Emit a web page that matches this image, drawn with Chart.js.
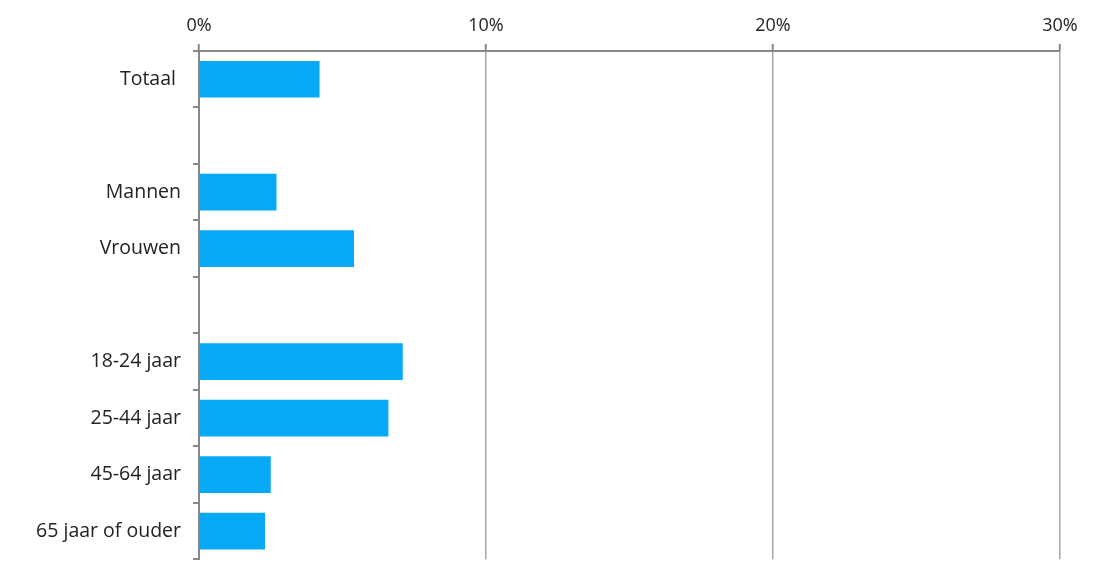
<!DOCTYPE html>
<html>
<head>
<meta charset="utf-8">
<script src="https://cdn.jsdelivr.net/npm/chart.js@4/dist/chart.umd.min.js"></script>
<style>
html,body{margin:0;padding:0;background:#fff;}
canvas{display:block;}
</style>
</head>
<body>
<canvas id="c" width="1102" height="583"></canvas>
<script>
const categories = ["Totaal ", "", "Mannen", "Vrouwen", "", "18-24 jaar", "25-44 jaar", "45-64 jaar", "65 jaar of ouder"];
const values = [4.2, null, 2.7, 5.4, null, 7.1, 6.6, 2.5, 2.3];
const xTicks = [0, 10, 20, 30];

const FONT = "'Open Sans', Lato, sans-serif";

new Chart(document.getElementById('c'), {
  type: 'bar',
  data: {
    labels: categories,
    datasets: [{
      data: values,
      backgroundColor: '#05A9F4',
      borderWidth: 0,
      barPercentage: 0.65,
      categoryPercentage: 1.0
    }]
  },
  options: {
    indexAxis: 'y',
    responsive: false,
    animation: false,
    layout: { padding: { top: 0, left: 0, right: 42, bottom: 21 } },
    plugins: { legend: { display: false }, tooltip: { enabled: false } },
    scales: {
      x: {
        position: 'top',
        min: xTicks[0],
        max: xTicks[xTicks.length - 1],
        afterBuildTicks: (s) => { s.ticks = xTicks.map(v => ({ value: v })); },
        afterFit: (s) => { s.height = 51; },
        ticks: {
          callback: (v) => v + '%',
          font: { family: FONT, size: 18 },
          color: '#222',
          padding: 7,
          maxRotation: 0
        },
        grid: {
          color: '#a6a6a6',
          lineWidth: 1.5,
          tickColor: '#888',
          tickLength: 7,
          tickWidth: 2
        },
        border: { display: true, color: '#888', width: 2 }
      },
      y: {
        afterFit: (s) => { s.width = 199; },
        ticks: {
          font: { family: FONT, size: 19.5 },
          color: '#222',
          padding: 12
        },
        grid: {
          offset: true,
          drawOnChartArea: false,
          color: '#888',
          tickLength: 6,
          lineWidth: 2
        },
        border: { display: true, color: '#888', width: 2 }
      }
    }
  }
});
</script>
</body>
</html>
